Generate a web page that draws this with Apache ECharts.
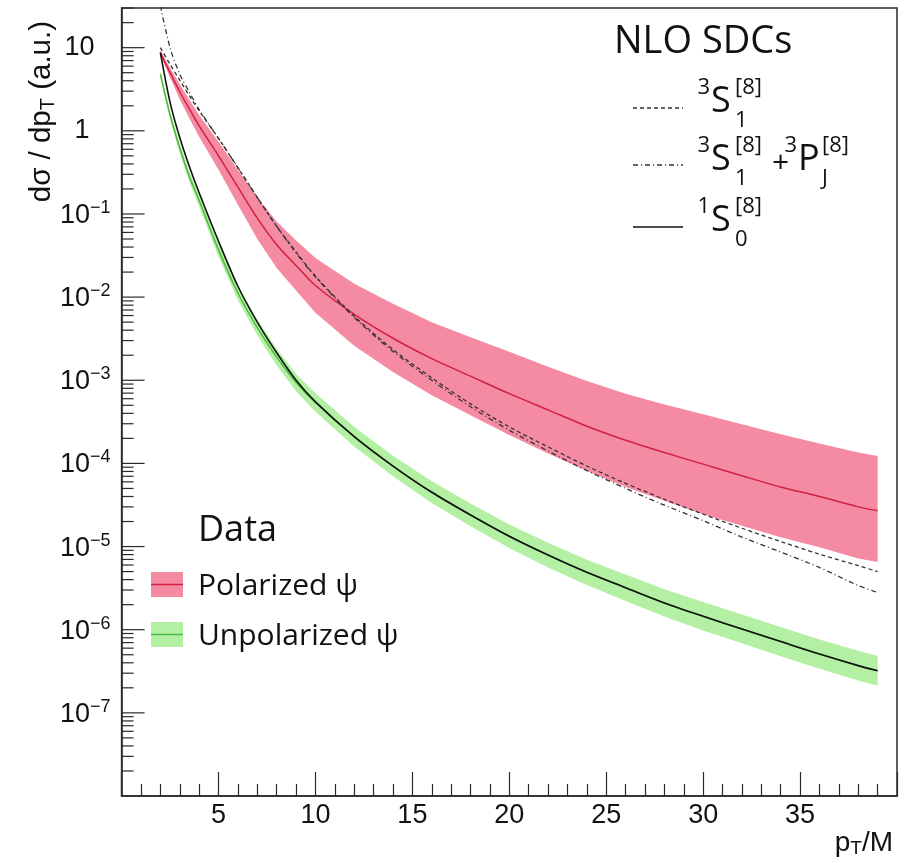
<!DOCTYPE html>
<html><head><meta charset="utf-8">
<script src="https://cdn.jsdelivr.net/npm/echarts@6/dist/echarts.min.js"></script>
<style>html,body{margin:0;padding:0;background:#fff}#c{width:910px;height:863px}</style>
</head><body><div id="c"></div>
<script>
// ---------------- data ----------------
const ptM = [2,2.5,3,3.5,4,5,6,7,8,9,10,12,14,16,18,20,22,24,26,28,30,32,34,36,38,39];

const polCentral = [8.7,5.0,2.95,1.82,1.15,0.5,0.21,0.089,0.0427,0.024,0.0138,6.2e-3,3.2e-3,1.82e-3,1.12e-3,6.9e-4,4.4e-4,2.8e-4,1.9e-4,1.35e-4,9.8e-5,7.1e-5,5.2e-5,4.0e-5,3.0e-5,2.7e-5];
const polUpper   = [9.3,5.75,3.63,2.34,1.55,0.74,0.34,0.158,0.081,0.048,0.0295,0.0145,8.3e-3,5.0e-3,3.3e-3,2.2e-3,1.45e-3,9.8e-4,6.9e-4,5.1e-4,3.9e-4,2.95e-4,2.24e-4,1.74e-4,1.35e-4,1.23e-4];
const polLower   = [8.1,4.37,2.4,1.41,0.85,0.34,0.129,0.05,0.0224,0.012,6.5e-3,2.6e-3,1.26e-3,6.6e-4,3.8e-4,2.2e-4,1.32e-4,8.1e-5,5.2e-5,3.55e-5,2.45e-5,1.78e-5,1.29e-5,9.8e-6,7.2e-6,6.5e-6];

const unpolCentral = [4.8,1.55,0.62,0.28,0.145,0.037,0.0112,0.0043,0.0019,9.4e-4,5.4e-4,2.1e-4,9.3e-5,4.5e-5,2.4e-5,1.33e-5,7.9e-6,4.9e-6,3.2e-6,2.1e-6,1.45e-6,1.02e-6,7.2e-7,5.1e-7,3.7e-7,3.2e-7];
const unpolUpper   = [5.3,1.74,0.71,0.325,0.171,0.0444,0.01366,0.00533,0.00239,1.19e-3,6.97e-4,2.75e-4,1.24e-4,6.1e-5,3.29e-5,1.84e-5,1.11e-5,6.96e-6,4.6e-6,3.07e-6,2.15e-6,1.52e-6,1.08e-6,7.65e-7,5.6e-7,4.83e-7];
const unpolLower   = [4.36,1.38,0.54,0.241,0.123,0.0308,0.00918,0.00347,0.00151,7.4e-4,4.19e-4,1.6e-4,7.0e-5,3.33e-5,1.75e-5,9.6e-6,5.6e-6,3.45e-6,2.22e-6,1.44e-6,9.8e-7,6.85e-7,4.8e-7,3.4e-7,2.45e-7,2.12e-7];

const sdc3S1   = [10,6.3,4.07,2.63,1.74,0.81,0.36,0.158,0.071,0.035,0.0178,5.9e-3,2.34e-3,1.07e-3,5.2e-4,2.75e-4,1.58e-4,9.3e-5,5.75e-5,3.7e-5,2.45e-5,1.66e-5,1.15e-5,8.1e-6,5.9e-6,5.0e-6];
const sdc3S1P  = [32,10,4.8,2.9,1.8,0.81,0.36,0.158,0.071,0.034,0.0175,5.7e-3,2.22e-3,1.0e-3,4.8e-4,2.5e-4,1.41e-4,8.2e-5,5.0e-5,3.15e-5,2.05e-5,1.3e-5,8.6e-6,5.6e-6,3.4e-6,2.8e-6];
const sdc1S0   = [8.7,2.2,0.83,0.37,0.18,0.047,0.0135,0.005,0.00214,1.0e-3,5.5e-4,2.1e-4,9.3e-5,4.5e-5,2.4e-5,1.33e-5,7.9e-6,4.9e-6,3.2e-6,2.1e-6,1.45e-6,1.02e-6,7.2e-7,5.1e-7,3.7e-7,3.2e-7];

const xTicks = [5,10,15,20,25,30,35];
const yDecades = [1,0,-1,-2,-3,-4,-5,-6,-7];
const yMajor = [10,1,1e-1,1e-2,1e-3,1e-4,1e-5,1e-6,1e-7];
const yMinorMantissa = [2,3,4,5,6,7,8,9];

// ---------------- styling ----------------
const AX = '#2a2a2a';
const PINK = '#f58aa3';
const GREEN = '#b3f0a3';
const RED = '#d2203f';
const GLINE = '#4cbb3c';
const LBL = 'Liberation Sans';
const LEG = 'Open Sans';

const pairs = arr => ptM.map((x, i) => [x, arr[i]]);

function band(upper, lower, color) {
  return {
    type: 'custom', coordinateSystem: 'cartesian2d', clip: true, silent: true, z: 1,
    data: [[ptM[0], upper[0]]],
    renderItem: (params, api) => {
      const pts = [];
      for (let i = 0; i < ptM.length; i++) pts.push(api.coord([ptM[i], upper[i]]));
      for (let i = ptM.length - 1; i >= 0; i--) pts.push(api.coord([ptM[i], lower[i]]));
      return { type: 'polygon', shape: { points: pts }, style: { fill: color } };
    }
  };
}

function line(arr, color, width, dash, z) {
  return {
    type: 'line', data: pairs(arr), showSymbol: false, smooth: 0.3, z: z || 3, silent: true,
    lineStyle: { color: color, width: width, type: dash || 'solid' }
  };
}

// y ticks (log minor ticks) drawn through the axis scale
const yTickList = [];
yMajor.forEach(v => yTickList.push([v, 1]));
[10, 1, 0.1, 0.01, 1e-3, 1e-4, 1e-5, 1e-6, 1e-7, 1e-8].forEach(d => {
  yMinorMantissa.forEach(m => { const v = m * d; if (v <= 30) yTickList.push([v, 0]); });
});
const yTickSeries = {
  type: 'custom', coordinateSystem: 'cartesian2d', silent: true, clip: false, z: 5,
  data: [[0, 1]],
  renderItem: (params, api) => {
    const children = yTickList.map(t => {
      const p = api.coord([0, t[0]]);
      const len = t[1] ? 23 : 12;
      return { type: 'line', shape: { x1: p[0], y1: p[1], x2: p[0] + len, y2: p[1] },
               style: { stroke: AX, lineWidth: 1.2 } };
    });
    return { type: 'group', children: children };
  }
};

function supTerm(x, yMid, pre, main, sup, sub) {
  const els = [];
  if (pre) els.push({ type: 'text', x: x - 1, y: yMid - 14, style: { text: pre, fontFamily: LEG, fontSize: 22, fill: '#111', align: 'right', verticalAlign: 'middle' } });
  els.push({ type: 'text', x: x, y: yMid, style: { text: main, fontFamily: LEG, fontSize: 36, fill: '#111', align: 'left', verticalAlign: 'middle' } });
  const w = 22;
  if (sup) els.push({ type: 'text', x: x + w + 2, y: yMid - 14, style: { text: sup, fontFamily: LEG, fontSize: 22, fill: '#111', align: 'left', verticalAlign: 'middle' } });
  if (sub) els.push({ type: 'text', x: x + w + 2, y: yMid + 19, style: { text: sub, fontFamily: LEG, fontSize: 22, fill: '#111', align: 'left', verticalAlign: 'middle' } });
  return els;
}

const graphics = [];
// y-axis title
graphics.push({ type: 'text', x: 42, y: 21, rotation: Math.PI / 2,
  style: { text: 'dσ / dp{t|T} (a.u.)', fontFamily: LBL, fontSize: 29.5, fill: '#111', align: 'right', verticalAlign: 'middle',
           rich: { t: { fontFamily: LBL, fontSize: 20, fill: '#111', padding: [13, 0, 0, 0] } } } });
// x-axis title
graphics.push({ type: 'text', x: 893, y: 843,
  style: { text: 'p{t|T}/M', fontFamily: LBL, fontSize: 28, fill: '#111', align: 'right', verticalAlign: 'middle',
           rich: { t: { fontFamily: LBL, fontSize: 19, fill: '#111', padding: [12, 0, 0, 0] } } } });
// NLO SDCs legend
graphics.push({ type: 'text', x: 614, y: 42, style: { text: 'NLO SDCs', fontFamily: LEG, fontSize: 38, fill: '#111', align: 'left', verticalAlign: 'middle' } });
graphics.push({ type: 'line', shape: { x1: 633, y1: 108, x2: 683, y2: 108 }, style: { stroke: '#333', lineWidth: 1.3, lineDash: [4, 3] } });
graphics.push({ type: 'line', shape: { x1: 633, y1: 165, x2: 683, y2: 165 }, style: { stroke: '#333', lineWidth: 1.3, lineDash: [5, 3, 1, 3] } });
graphics.push({ type: 'line', shape: { x1: 633, y1: 227, x2: 683, y2: 227 }, style: { stroke: '#111', lineWidth: 1.5 } });
supTerm(711, 102, '3', 'S', '[8]', '1').forEach(e => graphics.push(e));
supTerm(711, 160, '3', 'S', '[8]', '1').forEach(e => graphics.push(e));
graphics.push({ type: 'text', x: 772, y: 163, style: { text: '+', fontFamily: LEG, fontSize: 30, fill: '#111', align: 'left', verticalAlign: 'middle' } });
supTerm(798, 160, '3', 'P', '[8]', 'J').forEach(e => graphics.push(e));
supTerm(711, 221, '1', 'S', '[8]', '0').forEach(e => graphics.push(e));
// Data legend
graphics.push({ type: 'text', x: 198, y: 531, style: { text: 'Data', fontFamily: LEG, fontSize: 36, fill: '#111', align: 'left', verticalAlign: 'middle' } });
graphics.push({ type: 'rect', shape: { x: 151, y: 572, width: 32, height: 25 }, style: { fill: PINK } });
graphics.push({ type: 'line', shape: { x1: 151, y1: 584.5, x2: 183, y2: 584.5 }, style: { stroke: RED, lineWidth: 1.5 } });
graphics.push({ type: 'text', x: 198, y: 586, style: { text: 'Polarized ψ', fontFamily: LEG, fontSize: 30, fill: '#111', align: 'left', verticalAlign: 'middle' } });
graphics.push({ type: 'rect', shape: { x: 151, y: 622, width: 32, height: 25 }, style: { fill: GREEN } });
graphics.push({ type: 'line', shape: { x1: 151, y1: 634.5, x2: 183, y2: 634.5 }, style: { stroke: GLINE, lineWidth: 1.5 } });
graphics.push({ type: 'text', x: 198, y: 636, style: { text: 'Unpolarized ψ', fontFamily: LEG, fontSize: 30, fill: '#111', align: 'left', verticalAlign: 'middle' } });

const chart = echarts.init(document.getElementById('c'), null, { renderer: 'canvas' });
chart.setOption({
  animation: false,
  backgroundColor: '#fff',
  grid: { left: 121.6, right: 13, top: 8, bottom: 67, show: true, borderColor: AX, borderWidth: 1.5, containLabel: false },
  xAxis: {
    type: 'value', min: 0, max: 40, interval: 5,
    axisLine: { show: true, onZero: false, lineStyle: { color: AX, width: 1.5 } },
    axisTick: { show: true, inside: true, length: 24, lineStyle: { color: AX, width: 1.2 } },
    minorTick: { show: true, splitNumber: 5, length: 12, lineStyle: { color: AX, width: 1.2 } },
    splitLine: { show: false }, minorSplitLine: { show: false },
    axisLabel: { fontFamily: LBL, fontSize: 27, color: '#111', margin: 6, showMinLabel: false, showMaxLabel: false,
      formatter: v => (xTicks.indexOf(v) >= 0 ? String(v) : '') }
  },
  yAxis: {
    type: 'log', logBase: 10, min: 1e-8, max: 30,
    axisLine: { show: true, onZero: false, lineStyle: { color: AX, width: 1.5 } },
    axisTick: { show: false }, splitLine: { show: false },
    axisLabel: { margin: 11, showMinLabel: false, showMaxLabel: false,
      formatter: v => {
        const e = Math.round(Math.log10(v));
        if (Math.abs(Math.log10(v) - e) > 1e-6 || yDecades.indexOf(e) < 0) return '';
        if (e === 1) return '{p|10}';
        if (e === 0) return '{q|1}';
        return '{b|10}{s|−' + (-e) + '}';
      },
      rich: {
        p: { fontFamily: LBL, fontSize: 27, color: '#111', padding: [0, 16, 0, 0], lineHeight: 30 },
        q: { fontFamily: LBL, fontSize: 27, color: '#111', padding: [0, 21, 0, 0], lineHeight: 30 },
        b: { fontFamily: LBL, fontSize: 27, color: '#111', verticalAlign: 'bottom', lineHeight: 30 },
        s: { fontFamily: LBL, fontSize: 18, color: '#111', verticalAlign: 'top', lineHeight: 18 }
      }
    }
  },
  series: [
    band(polUpper, polLower, PINK),
    band(unpolUpper, unpolLower, GREEN),
    line(polCentral, RED, 1.5),
    line(unpolCentral, GLINE, 1.5),
    line(sdc3S1, '#333', 1.3, [4, 3], 4),
    line(sdc3S1P, '#333', 1.3, [5, 3, 1, 3], 4),
    line(sdc1S0, '#111', 1.6, 'solid', 4),
    yTickSeries
  ],
  graphic: graphics
});
</script></body></html>
